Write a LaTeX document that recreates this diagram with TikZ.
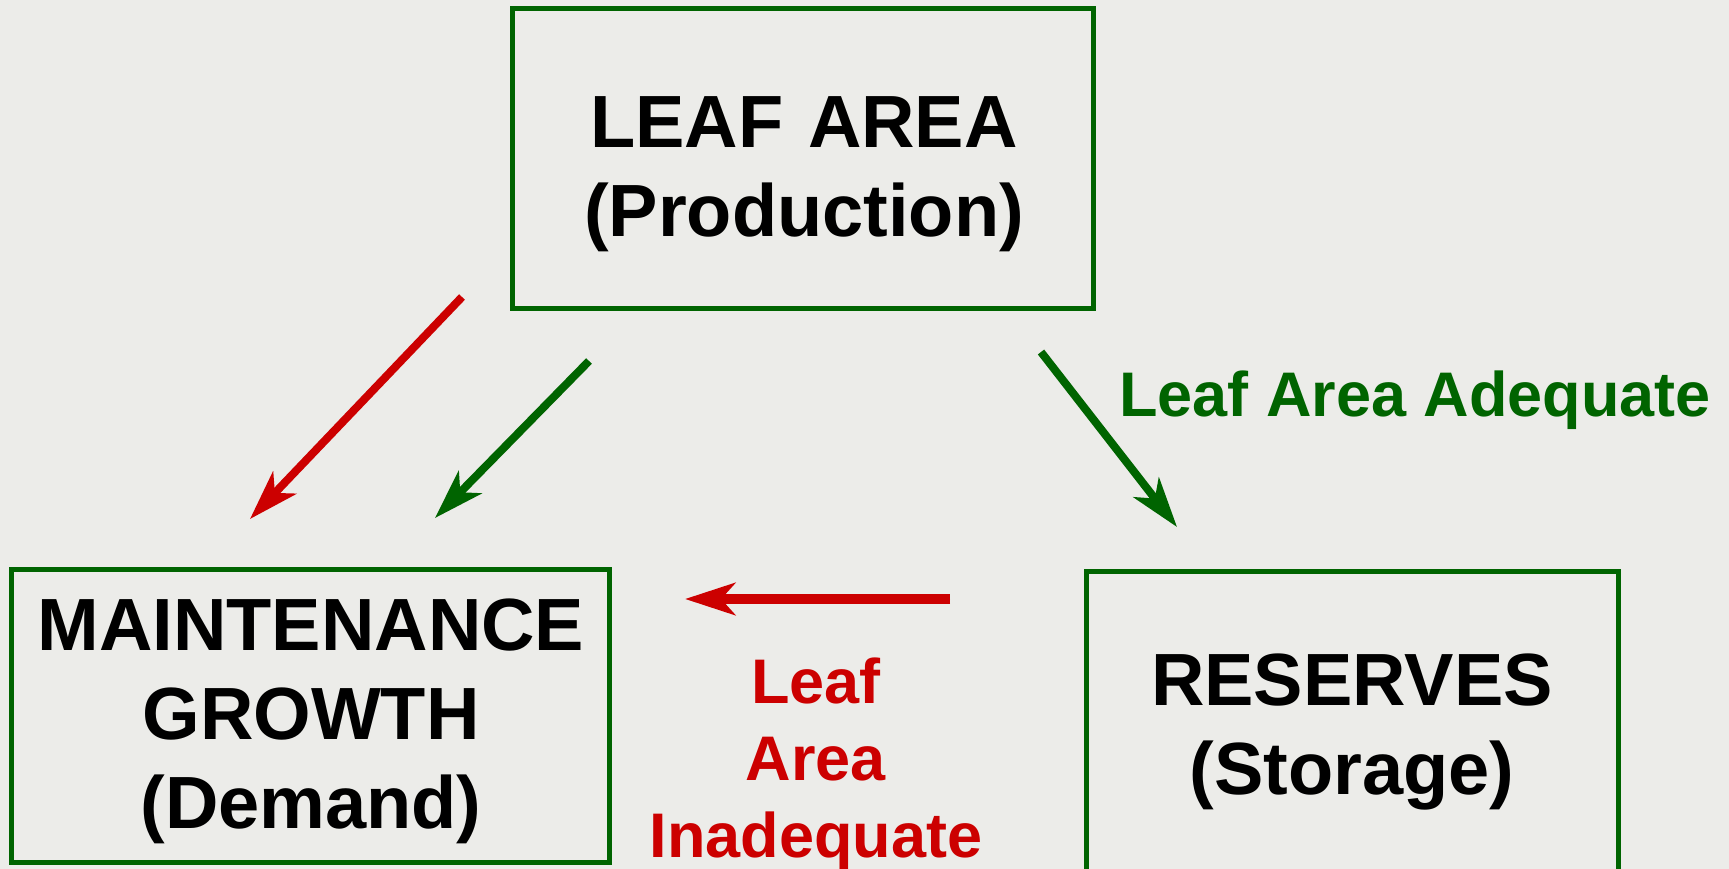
\documentclass[tikz,border=0pt]{standalone}
\usepackage{fontspec}
\setmainfont{Liberation Sans}
\usetikzlibrary{arrows.meta}
\definecolor{bgc}{RGB}{236,236,233}
\definecolor{dgreen}{RGB}{0,100,0}
\definecolor{dred}{RGB}{204,0,0}
\tikzset{
  box/.style={draw=dgreen, line width=5pt, inner sep=0pt, outer sep=0pt},
  boxtext/.style={font=\bfseries\fontsize{74}{89}\selectfont, text width=700pt, align=center, anchor=base, inner sep=0pt},
  redtext/.style={font=\bfseries\fontsize{63}{77}\selectfont, text=dred, text width=400pt, align=center, anchor=base, inner sep=0pt},
  greentext/.style={font=\bfseries\fontsize{63}{76}\selectfont, text=dgreen, anchor=base west, inner sep=0pt},
  arr/.style={line width=8pt, -{Stealth[length=50pt,width=32pt,inset=14pt]}},
}
\begin{document}
\begin{tikzpicture}[x=1pt,y=-1pt]
\useasboundingbox (0,0) rectangle (1729,869);
\clip (0,0) rectangle (1729,869);
\fill[bgc] (0,0) rectangle (1729,869);
% boxes
\node[box, minimum width=581pt, minimum height=299pt] (leafbox) at (802.5,158.5) {};
\node[box, minimum width=598pt, minimum height=293pt] (maintbox) at (310,715.5) {};
\node[box, minimum width=532pt, minimum height=329pt] (resbox) at (1352,735.5) {};
% box texts
\node[boxtext] (leaftext) at (804,148) {LEAF AREA\\(Production)};
\node[boxtext] (mainttext) at (311,650) {MAINTENANCE\\GROWTH\\(Demand)};
\node[boxtext] (restext) at (1352,705) {RESERVES\\(Storage)};
% labels
\node[greentext] (adequate) at (1119,416) {Leaf Area Adequate};
\node[redtext] (inadequate) at (816,703) {Leaf\\Area\\Inadequate};
% arrow end points
\coordinate (r1s) at (462,297);
\coordinate (r1e) at (250,519);
\coordinate (g1s) at (589,361);
\coordinate (g1e) at (435,518);
\coordinate (g2s) at (1041,352);
\coordinate (g2e) at (1177,527);
\coordinate (r2s) at (950,599);
\coordinate (r2e) at (685,599);
% arrows
\draw[arr, draw=dred, fill=dred] (r1s) -- (r1e);
\draw[arr, draw=dgreen, fill=dgreen] (g1s) -- (g1e);
\draw[arr, draw=dgreen, fill=dgreen] (g2s) -- (g2e);
\draw[arr, draw=dred, fill=dred, line width=9.5pt] (r2s) -- (r2e);
\end{tikzpicture}
\end{document}
